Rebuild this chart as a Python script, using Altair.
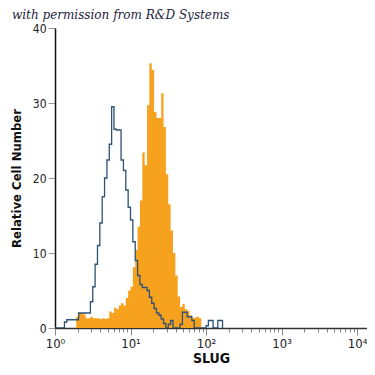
import altair as alt
import pandas as pd

# histogram bins: 32 bins per decade, bin i starts at 10**(i/32)
bins_per_decade = 32

isotype_counts = [0, 0, 0, 0, 0.8, 1.1, 1.1, 1.1, 1.1, 1.1, 2.0, 2.0, 2.0, 2.0, 2.0,
                  3.5, 5.5, 8.5, 11, 14, 17.5, 20, 22.4, 24.5, 29.5,
                  26.5, 26.4, 26.4, 22.4, 21, 18.4, 16.1, 14.4, 11.5, 9, 7,
                  5.8, 5.4, 5.4, 5.0, 4.1, 3.3, 2.6, 2.0, 1.7, 1.2, 0.6, 0,
                  0.5, 1.0, 0, 0, 0, 0.5, 2.1, 2.1, 1.5, 1.5, 1.0,
                  0, 0, 0, 0, 0, 0.3, 1.0, 1.0, 0, 0, 1.0, 1.0, 0]

slug_counts = [0, 0, 0, 0, 0, 0, 0, 0, 0, 1.5, 2.0, 2.0, 1.8, 1.3, 1.3, 1.5, 1.3,
               1.3, 1.3, 1.2, 1.3, 1.2, 1.3, 2.2, 2.0, 2.7, 2.5, 3.0, 3.3, 3.0,
               4.0, 5.0, 5.5, 8.1, 10.4, 13.5, 17, 23.4, 21.7, 29.7, 35.3, 34.4,
               28.8, 28, 28, 31.3, 26.8, 20.5, 16.5, 13, 10, 7.0, 4.2, 2.8, 3.2,
               2.5, 2.3, 1.7, 1.3, 1.4, 1.5, 1.3, 0]

x_ticks = [1, 2, 3, 4, 5, 6, 7, 8, 9, 10, 20, 30, 40, 50, 60, 70, 80, 90,
           100, 200, 300, 400, 500, 600, 700, 800, 900,
           1000, 2000, 3000, 4000, 5000, 6000, 7000, 8000, 9000, 10000]
y_ticks = [0, 10, 20, 30, 40]

iso_df = pd.DataFrame({"x": [10 ** (i / bins_per_decade) for i in range(len(isotype_counts))],
                       "count": isotype_counts})
slug_df = pd.DataFrame({"x": [10 ** (i / bins_per_decade) for i in range(len(slug_counts))],
                        "count": slug_counts})

FONT = "DejaVu Sans Condensed"

label_expr = ("datum.value == 1 ? '10⁰' : datum.value == 10 ? '10¹' : "
              "datum.value == 100 ? '10²' : datum.value == 1000 ? '10³' : "
              "datum.value == 10000 ? '10⁴' : ''")
major_test = "indexof([1,10,100,1000,10000], datum.value) >= 0"

x_enc = alt.X("x:Q",
              scale=alt.Scale(type="log", domain=[1, 13550], nice=False),
              axis=alt.Axis(values=x_ticks, labelExpr=label_expr, title="SLUG",
                            grid=False, domainColor="#333", domainWidth=1.5,
                            tickColor="#888",
                            tickSize={"condition": {"test": major_test, "value": 7}, "value": 4},
                            labelFont=FONT, labelFontSize=13, labelColor="#222",
                            labelPadding=2, labelFlush=False, labelOverlap=False,
                            titleFont=FONT, titleFontSize=14, titleFontWeight="bold",
                            titleColor="#111", titlePadding=1))
y_enc = alt.Y("count:Q",
              scale=alt.Scale(domain=[0, 40], nice=False),
              axis=alt.Axis(values=y_ticks, title="Relative Cell Number", grid=False,
                            domainColor="#111", domainWidth=1.5, tickColor="#999",
                            tickSize=7, labelFont=FONT, labelFontSize=12,
                            labelColor="#222", labelPadding=2,
                            titleFont=FONT, titleFontSize=13, titleFontWeight="bold",
                            titleColor="#111", titlePadding=9))

slug = alt.Chart(slug_df).mark_area(interpolate="step-after", color="#F7A21F",
                                    opacity=1, clip=True).encode(x=x_enc, y=y_enc)
iso = alt.Chart(iso_df).mark_line(interpolate="step-after", color="#2e5275",
                                  strokeWidth=1.3, clip=True).encode(x=x_enc, y=y_enc)

chart = alt.layer(slug, iso).properties(
    width=312, height=300,
    autosize=alt.AutoSizeParams(type="none"),
    padding={"left": 47, "top": 20, "right": 0, "bottom": 38},
    title=alt.TitleParams("with permission from R&D Systems", anchor="start",
                          frame="group", dx=-43, dy=3, offset=3, font="DejaVu Serif",
                          fontStyle="italic", fontWeight="normal", fontSize=12,
                          color="#1c2340"),
).configure_view(stroke=None)

chart.save("out.html", embed_options={"renderer": "svg", "actions": False})
